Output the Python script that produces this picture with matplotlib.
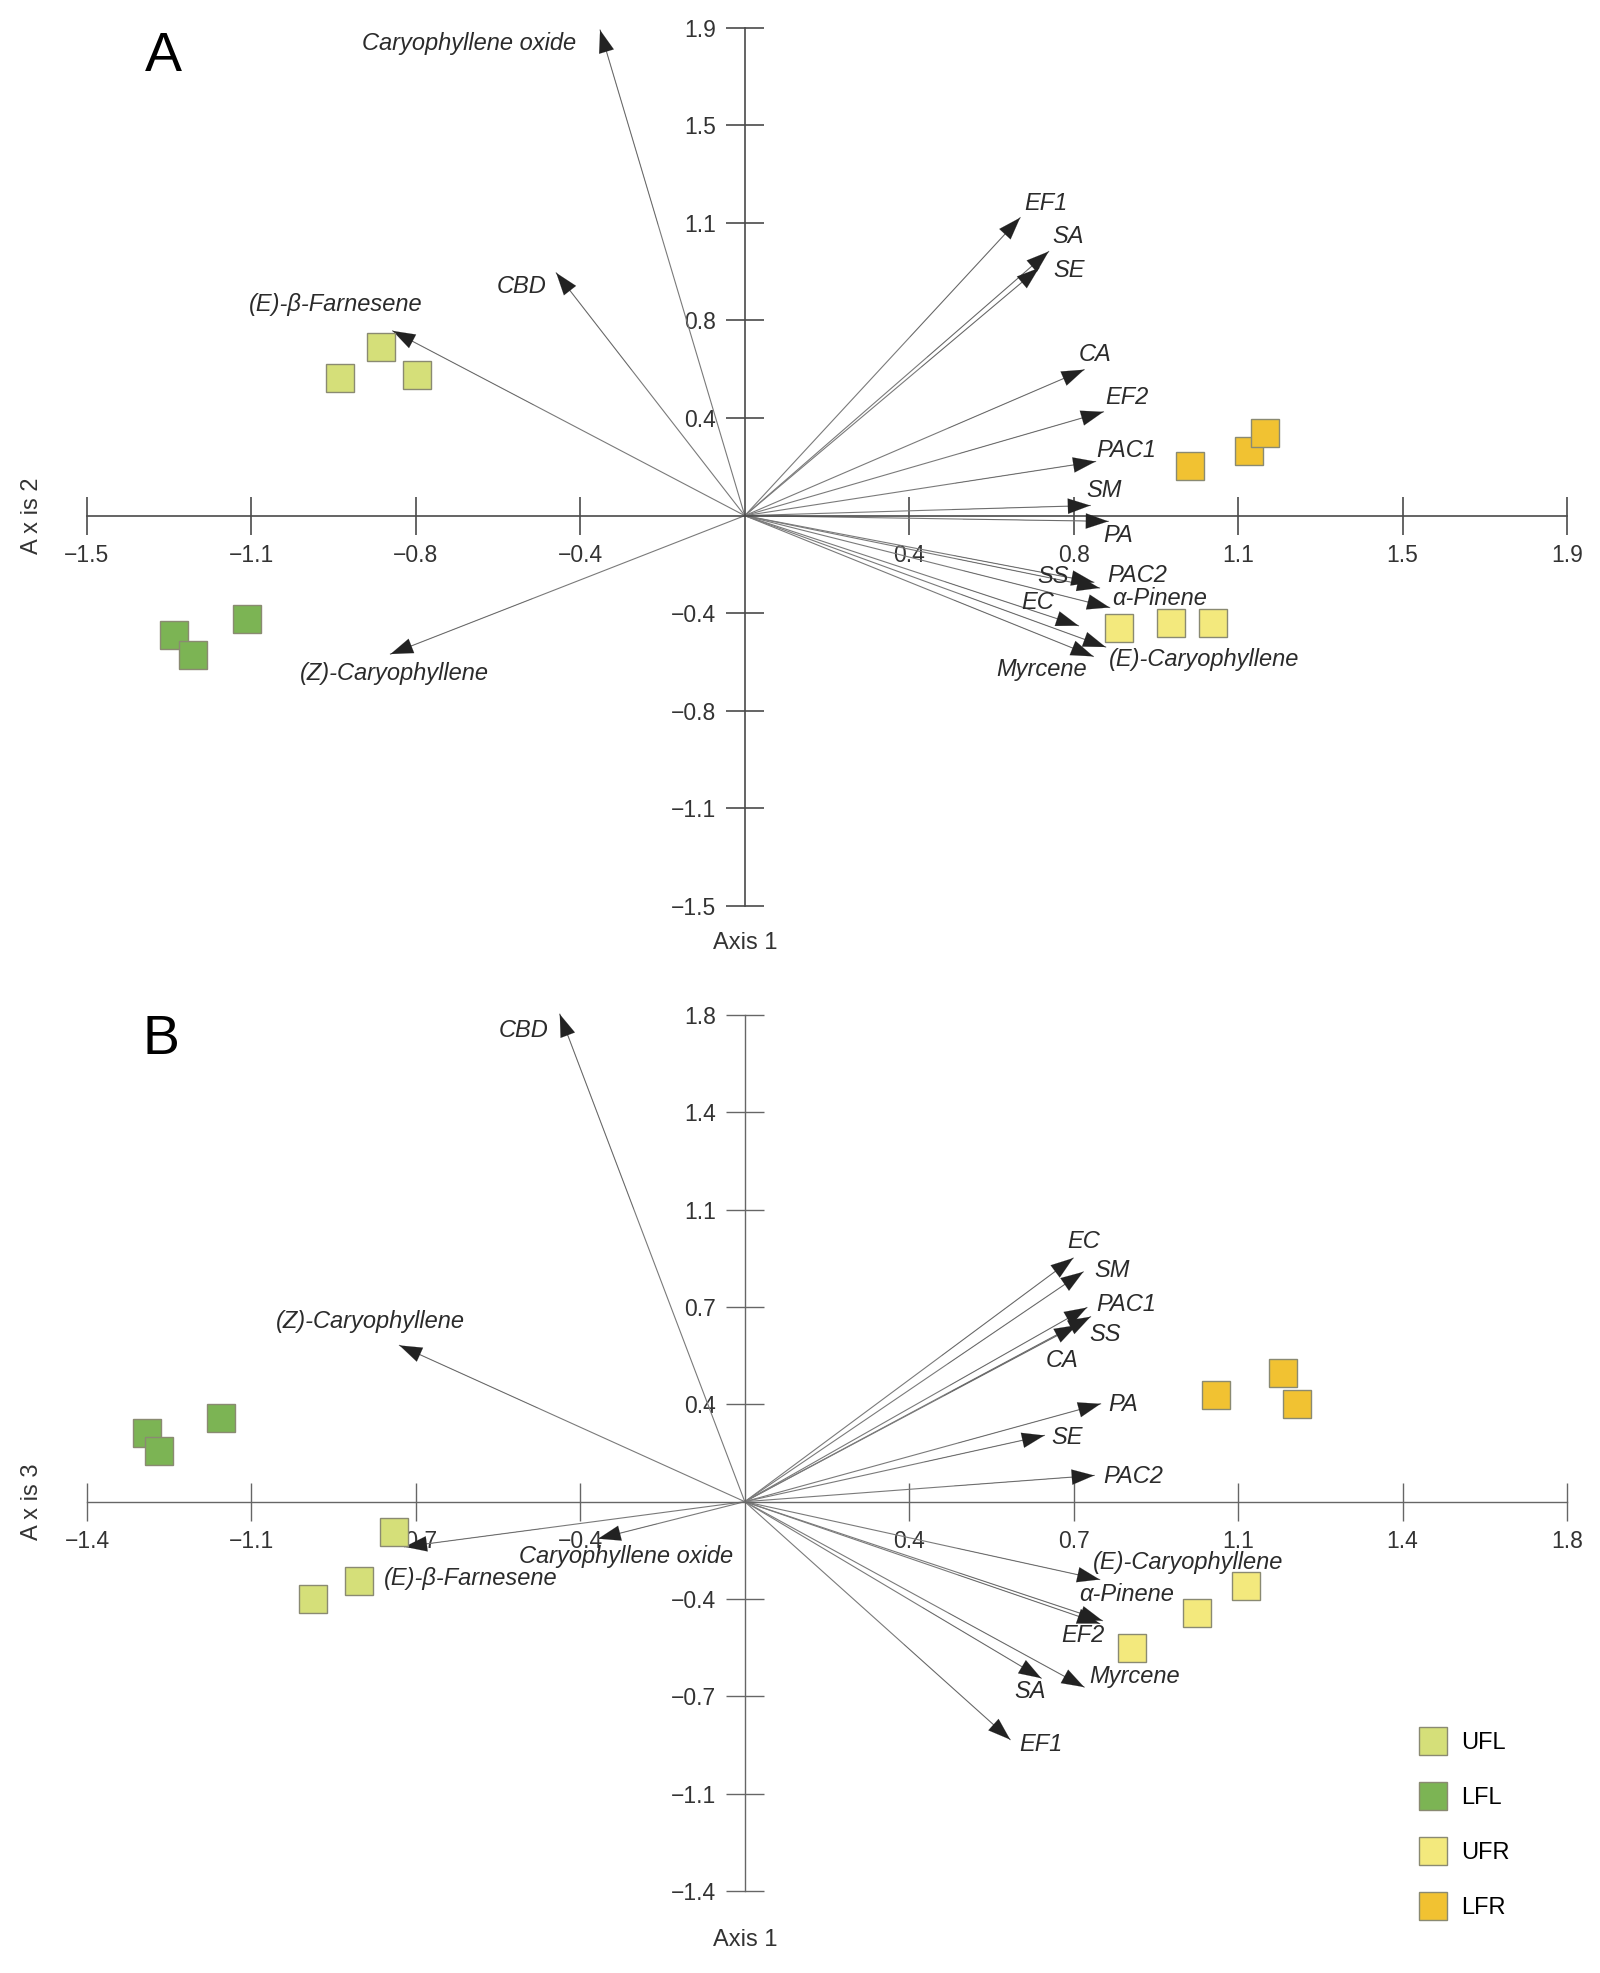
import matplotlib.pyplot as plt
from matplotlib.lines import Line2D

plt.rcParams['font.family'] = ['Liberation Sans', 'DejaVu Sans']

groups = ['UFL', 'LFL', 'UFR', 'LFR']
colors = ['#d5df79', '#7cb454', '#f3e97d', '#f1c232']

# ---- panel A : Axis 1 vs Axis 2 ----
vars_a = ['Caryophyllene oxide', 'CBD', '(E)-β-Farnesene', '(Z)-Caryophyllene',
          'EF1', 'SA', 'SE', 'CA', 'EF2', 'PAC1', 'SM', 'PA', 'SS', 'PAC2',
          'α-Pinene', 'EC', '(E)-Caryophyllene', 'Myrcene']
load_a_x = [-0.330, -0.430, -0.803, -0.808, 0.628, 0.693, 0.671, 0.774, 0.818,
            0.800, 0.788, 0.829, 0.796, 0.809, 0.832, 0.761, 0.823, 0.795]
load_a_y = [1.866, 0.933, 0.710, -0.532, 1.145, 1.015, 0.952, 0.561, 0.399,
            0.208, 0.039, -0.022, -0.256, -0.278, -0.353, -0.423, -0.505, -0.541]

ufl_a_x = [-0.829, -0.923, -0.748]
ufl_a_y = [0.648, 0.527, 0.541]
lfl_a_x = [-1.302, -1.258, -1.135]
lfl_a_y = [-0.459, -0.537, -0.396]
ufr_a_x = [0.854, 0.972, 1.067]
ufr_a_y = [-0.430, -0.411, -0.411]
lfr_a_x = [1.015, 1.150, 1.187]
lfr_a_y = [0.190, 0.249, 0.318]

ticks_a = [-1.5, -1.125, -0.75, -0.375, 0.375, 0.75, 1.125, 1.5, 1.875]
ticklabels_a = ['−1.5', '−1.1', '−0.8', '−0.4', '0.4', '0.8', '1.1', '1.5', '1.9']

# ---- panel B : Axis 1 vs Axis 3 ----
vars_b = ['CBD', '(Z)-Caryophyllene', '(E)-β-Farnesene', 'Caryophyllene oxide',
          'EC', 'SM', 'PAC1', 'SS', 'CA', 'PA', 'SE', 'PAC2',
          '(E)-Caryophyllene', 'α-Pinene', 'EF2', 'Myrcene', 'SA', 'EF1']
load_b_x = [-0.405, -0.756, -0.745, -0.321, 0.719, 0.741, 0.749, 0.757, 0.727,
            0.779, 0.656, 0.765, 0.777, 0.783, 0.777, 0.743, 0.649, 0.581]
load_b_y = [1.803, 0.578, -0.167, -0.137, 0.901, 0.850, 0.718, 0.684, 0.653,
            0.362, 0.245, 0.097, -0.288, -0.440, -0.451, -0.686, -0.653, -0.880]

ufl_b_x = [-0.769, -0.844, -0.946]
ufl_b_y = [-0.113, -0.292, -0.361]
lfl_b_x = [-1.309, -1.282, -1.147]
lfl_b_y = [0.254, 0.187, 0.309]
ufr_b_x = [1.098, 0.990, 0.848]
ufr_b_y = [-0.312, -0.413, -0.540]
lfr_b_x = [1.031, 1.179, 1.208]
lfr_b_y = [0.396, 0.476, 0.362]

ticks_b = [-1.44, -1.08, -0.72, -0.36, 0.36, 0.72, 1.08, 1.44, 1.8]
ticklabels_b = ['−1.4', '−1.1', '−0.7', '−0.4', '0.4', '0.7', '1.1', '1.4', '1.8']

# label offsets (pixels from arrow tip) - layout only
offs_a = [(-131, -13), (-35, -14), (-57, 26), (4, -19), (26, 14), (19, 15),
          (30, -3), (11, 15), (23, 14), (31, 11), (14, 15), (10, -14),
          (-41, 6), (38, 12), (50, 9), (-41, 23), (98, -12), (-52, -13)]
offs_b = [(-36, -16), (-29, 24), (66, -32), (28, -18), (10, 17), (29, 1),
          (39, 3), (15, -18), (-15, -35), (23, -1), (23, -2), (39, -1),
          (88, 17), (24, 26), (-17, -12), (50, 11), (-11, -13), (31, -5)]

W, H = 1600, 1973
fig = plt.figure(figsize=(W / 100, H / 100), dpi=100)


def make_axes(top_px, bot_px, ticks, tick_top_px, tick_bot_px):
    # axes spanning full width; first/last tick at x=87/1567 px
    ax = fig.add_axes([0, 1 - bot_px / H, 1, (bot_px - top_px) / H])
    sx = (1567 - 87) / (ticks[-1] - ticks[0])
    ax.set_xlim(ticks[0] - 87 / sx, ticks[0] + (W - 87) / sx)
    sy = (tick_bot_px - tick_top_px) / (ticks[-1] - ticks[0])
    ax.set_ylim(ticks[0] - (bot_px - tick_bot_px) / sy,
                ticks[-1] + (tick_top_px - top_px) / sy)
    return ax


def style_axes(ax, ticks, labels, col, lw):
    ax.patch.set_alpha(0)
    for s in ['top', 'right']:
        ax.spines[s].set_visible(False)
    for s in ['left', 'bottom']:
        ax.spines[s].set_position('zero')
        ax.spines[s].set_bounds(ticks[0], ticks[-1])
        ax.spines[s].set_color(col)
        ax.spines[s].set_linewidth(lw)
    ax.set_xticks(ticks)
    ax.set_xticklabels(labels)
    ax.set_yticks(ticks)
    ax.set_yticklabels(labels)
    ax.tick_params(axis='both', direction='inout', length=27, width=lw,
                   color=col, labelsize=16.5, labelcolor='#333333')
    ax.tick_params(axis='x', pad=7)
    ax.tick_params(axis='y', pad=7)


def draw_biplot(ax, names, lx, ly, offs, scores):
    for x, y in zip(lx, ly):
        ax.plot([0, x], [0, y], color='#7a7a7a', lw=0.8, zorder=2)
        ax.annotate('', xy=(x, y), xytext=(0.6 * x, 0.6 * y),
                    arrowprops=dict(arrowstyle='-|>,head_length=1.6,head_width=0.55',
                                    mutation_scale=10, fc='#222222', ec='#222222',
                                    lw=0.1, shrinkA=0, shrinkB=0), zorder=3)
    for (sx, sy), c in zip(scores, colors):
        ax.plot(sx, sy, ls='', marker='s', markersize=20, mfc=c,
                mec='#8a8a72', mew=1.0, zorder=4)
    for n, x, y, o in zip(names, lx, ly, offs):
        ax.annotate(n, xy=(x, y), xytext=o, textcoords='offset pixels',
                    ha='center', va='center', fontsize=17, style='italic',
                    color='#2b2b2b', zorder=5)


# panel A
axA = make_axes(0, 985, ticks_a, 27.7, 906)
style_axes(axA, ticks_a, ticklabels_a, '#4a4a4a', 1.2)
draw_biplot(axA, vars_a, load_a_x, load_a_y, offs_a,
            [(ufl_a_x, ufl_a_y), (lfl_a_x, lfl_a_y), (ufr_a_x, ufr_a_y), (lfr_a_x, lfr_a_y)])
axA.annotate('Axis 1', xy=(0, ticks_a[0]), xytext=(0, -37), textcoords='offset pixels',
             ha='center', va='center', fontsize=17, color='#333333')
axA.annotate('A x is 2', xy=(ticks_a[0], 0), xytext=(-55, 0), textcoords='offset pixels',
             ha='center', va='center', fontsize=17, color='#333333', rotation=90)
fig.text(163 / W, 1 - 57 / H, 'A', fontsize=40, ha='center', va='center')

# panel B
axB = make_axes(985, H, ticks_b, 1015, 1891)
style_axes(axB, ticks_b, ticklabels_b, '#666666', 1.0)
draw_biplot(axB, vars_b, load_b_x, load_b_y, offs_b,
            [(ufl_b_x, ufl_b_y), (lfl_b_x, lfl_b_y), (ufr_b_x, ufr_b_y), (lfr_b_x, lfr_b_y)])
axB.annotate('Axis 1', xy=(0, ticks_b[0]), xytext=(0, -49), textcoords='offset pixels',
             ha='center', va='center', fontsize=17, color='#333333')
axB.annotate('A x is 3', xy=(ticks_b[0], 0), xytext=(-55, 0), textcoords='offset pixels',
             ha='center', va='center', fontsize=17, color='#333333', rotation=90)
fig.text(161 / W, 1 - 1040 / H, 'B', fontsize=40, ha='center', va='center')

# legend
handles = [Line2D([], [], ls='', marker='s', markersize=20, mfc=c, mec='#8a8a72', mew=1.0)
           for c in colors]
fig.legend(handles, groups, loc='upper left', bbox_to_anchor=(1421 / W, 1 - 1732 / H),
           frameon=False, fontsize=17, handlelength=1.0, handletextpad=0.72,
           labelspacing=1.40, borderpad=0, borderaxespad=0)

fig.savefig('out.png', dpi=100)
